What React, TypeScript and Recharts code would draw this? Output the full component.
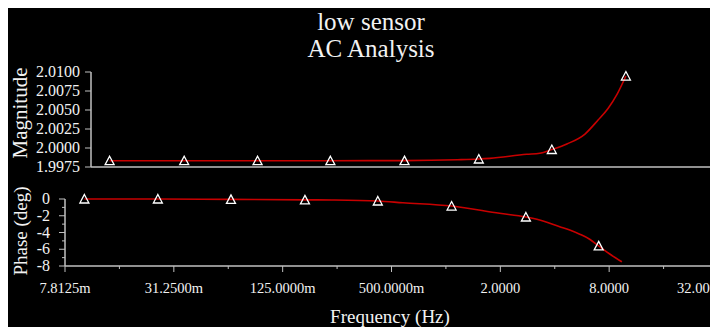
import { LineChart, Line, XAxis, YAxis } from "recharts";

// frequency axis (log, Hz)
const freqTicks = [0.0078125, 0.015625, 0.03125, 0.0625, 0.125, 0.25, 0.5, 1, 2, 4, 8, 16, 32];
const freqTickLabels = ["7.8125m", "", "31.2500m", "", "125.0000m", "", "500.0000m", "", "2.0000", "", "8.0000", "", "32.0000"];

const magTicks = [1.9975, 2.0, 2.0025, 2.005, 2.0075, 2.01];
const magTickLabels = ["1.9975", "2.0000", "2.0025", "2.0050", "2.0075", "2.0100"];

const phaseTicks = [0, -1, -2, -3, -4, -5, -6, -7, -8];
const phaseTickLabels = ["0", "", "-2", "", "-4", "", "-6", "", "-8"];

// magnitude trace
const magFreq = [0.01, 0.0269, 0.0712, 0.187, 0.5, 1.01, 1.34, 1.55, 2.53, 3.01, 3.53, 4.31, 5.48, 6.52, 7.44, 8.38, 9.43];
const magValue = [1.99833, 1.99833, 1.99833, 1.99833, 1.99834, 1.99845, 1.99855, 1.99864, 1.99917, 1.9993, 1.9998, 2.00053, 2.00184, 2.00368, 2.0052, 2.00705, 2.00947];
const magMarkFreq = [0.01, 0.0269, 0.0712, 0.187, 0.5, 1.34, 3.53, 9.43];
const magMarkValue = [1.99833, 1.99833, 1.99833, 1.99833, 1.99834, 1.99855, 1.9998, 2.00947];

// phase trace (deg)
const phaseFreq = [0.01, 0.0255, 0.0647, 0.166, 0.234, 0.42, 0.578, 1.075, 1.98, 2.77, 3.3, 4.26, 4.84, 5.5, 6.24, 7.0, 8.06, 9.4];
const phaseValue = [0, 0, -0.05, -0.1, -0.12, -0.24, -0.45, -0.84, -1.7, -2.15, -2.51, -3.3, -3.7, -4.2, -4.8, -5.6, -6.57, -7.5];
const phaseMarkFreq = [0.01, 0.0255, 0.0647, 0.166, 0.42, 1.075, 2.77, 7.0];
const phaseMarkValue = [0, 0, -0.05, -0.1, -0.24, -0.84, -2.15, -5.6];

const magData = magFreq.map((f, i) => ({ f, v: magValue[i] }));
const magMarks = magMarkFreq.map((f, i) => ({ f, v: magMarkValue[i] }));
const phaseData = phaseFreq.map((f, i) => ({ f, v: phaseValue[i] }));
const phaseMarks = phaseMarkFreq.map((f, i) => ({ f, v: phaseMarkValue[i] }));

const AXIS = "#c0c0c0";
const TEXT = "#f2f2f2";
const CURVE = "#c80000";
const SERIF = "'Liberation Serif', 'Times New Roman', serif";

function Marker(props: any) {
  const { cx, cy, index } = props;
  if (cx == null || cy == null) return <g key={index} />;
  return (
    <path
      key={index}
      d={`M${cx},${cy - 4.5} L${cx + 4.5},${cy + 4} L${cx - 4.5},${cy + 4} Z`}
      fill="none"
      stroke="#ffffff"
      strokeWidth={1.3}
    />
  );
}

function FreqTick({ x, y, payload, index }: any) {
  const label = freqTickLabels[freqTicks.indexOf(payload.value)] ?? "";
  const major = label !== "";
  const last = index === freqTicks.length - 1;
  return (
    <g>
      <line x1={x} x2={x} y1={y} y2={y + (major ? 6 : 3)} stroke={AXIS} />
      {major && (
        <text x={last ? x - 41 : x} y={y + 27} textAnchor={last ? "start" : "middle"} fill={TEXT} fontSize={14.5} fontFamily={SERIF}>
          {label}
        </text>
      )}
    </g>
  );
}

function MagTick({ x, y, payload }: any) {
  const label = magTickLabels[magTicks.indexOf(payload.value)];
  return (
    <g>
      <line x1={x - 6} x2={x} y1={y} y2={y} stroke={AXIS} />
      <text x={x - 11} y={y + 5} textAnchor="end" fill={TEXT} fontSize={16} fontFamily={SERIF}>
        {label}
      </text>
    </g>
  );
}

function PhaseTick({ x, y, payload }: any) {
  const label = phaseTickLabels[phaseTicks.indexOf(payload.value)] ?? "";
  const major = label !== "";
  return (
    <g>
      <line x1={x - (major ? 6 : 3)} x2={x} y1={y} y2={y} stroke={AXIS} />
      {major && (
        <text x={x - 15} y={y + 5} textAnchor="end" fill={TEXT} fontSize={16} fontFamily={SERIF}>
          {label}
        </text>
      )}
    </g>
  );
}

function sideLabel(text: string, size: number, cy: number) {
  return () => (
    <text
      x={12}
      y={cy}
      transform={`rotate(-90 12 ${cy})`}
      textAnchor="middle"
      dominantBaseline="central"
      fill={TEXT}
      fontSize={size}
      fontFamily={SERIF}
    >
      {text}
    </text>
  );
}

export default function App() {
  return (
    <div style={{ position: "relative", width: 710, marginTop: -1 }}>
      <div
        style={{
          position: "absolute",
          top: -22,
          left: 50,
          fontFamily: SERIF,
          fontSize: 24,
          lineHeight: "24px",
          whiteSpace: "nowrap",
          color: "#000",
        }}
      >
        Fig.4(c) step response in MATLAB result of Low frequency sensor
      </div>
      <div style={{ position: "relative", width: 710, height: 320, background: "#000", overflow: "hidden" }}>
        <div
          style={{
            position: "absolute",
            top: 1,
            left: 0,
            width: 726,
            textAlign: "center",
            color: TEXT,
            fontFamily: SERIF,
            fontSize: 25,
            lineHeight: "27px",
          }}
        >
          <div>low sensor</div>
          <div>AC Analysis</div>
        </div>

        <div style={{ position: "absolute", top: 0, left: 0 }}>
          <LineChart width={710} height={175} margin={{ top: 65, right: 0, left: 0, bottom: 0 }}>
            <XAxis
              dataKey="f"
              type="number"
              scale="log"
              domain={[0.0078125, 32]}
              allowDataOverflow
              height={15}
              tick={false}
              tickLine={false}
              axisLine={{ stroke: AXIS, strokeWidth: 1.5 }}
            />
            <YAxis
              type="number"
              domain={[1.9975, 2.01]}
              ticks={magTicks}
              interval={0}
              width={83}
              tickSize={0}
              tickMargin={0}
              tickLine={false}
              tick={<MagTick />}
              axisLine={{ stroke: AXIS, strokeWidth: 1.5 }}
              label={sideLabel("Magnitude", 21, 106)}
            />
            <Line data={magData} dataKey="v" type="monotoneX" stroke={CURVE} strokeWidth={1.6} dot={false} isAnimationActive={false} />
            <Line data={magMarks} dataKey="v" stroke="none" dot={Marker} activeDot={false} isAnimationActive={false} />
          </LineChart>
        </div>

        <div style={{ position: "absolute", top: 0, left: 0 }}>
          <LineChart width={710} height={320} margin={{ top: 192, right: 0, left: 0, bottom: 0 }}>
            <XAxis
              dataKey="f"
              type="number"
              scale="log"
              domain={[0.0078125, 32]}
              allowDataOverflow
              ticks={freqTicks}
              height={61}
              tickSize={0}
              tickMargin={0}
              tickLine={false}
              tick={<FreqTick />}
              interval={0}
              axisLine={{ stroke: AXIS, strokeWidth: 1.5 }}
              label={() => (
                <text x={382} y={316} textAnchor="middle" fill={TEXT} fontSize={19} fontFamily={SERIF}>
                  Frequency (Hz)
                </text>
              )}
            />
            <YAxis
              type="number"
              domain={[-8, 0]}
              ticks={phaseTicks}
              interval={0}
              width={57}
              tickSize={0}
              tickMargin={0}
              tickLine={false}
              tick={<PhaseTick />}
              axisLine={{ stroke: AXIS, strokeWidth: 1.5 }}
              label={sideLabel("Phase (deg)", 19, 224)}
            />
            <Line data={phaseData} dataKey="v" type="monotoneX" stroke={CURVE} strokeWidth={1.6} dot={false} isAnimationActive={false} />
            <Line data={phaseMarks} dataKey="v" stroke="none" dot={Marker} activeDot={false} isAnimationActive={false} />
          </LineChart>
        </div>
      </div>
    </div>
  );
}
